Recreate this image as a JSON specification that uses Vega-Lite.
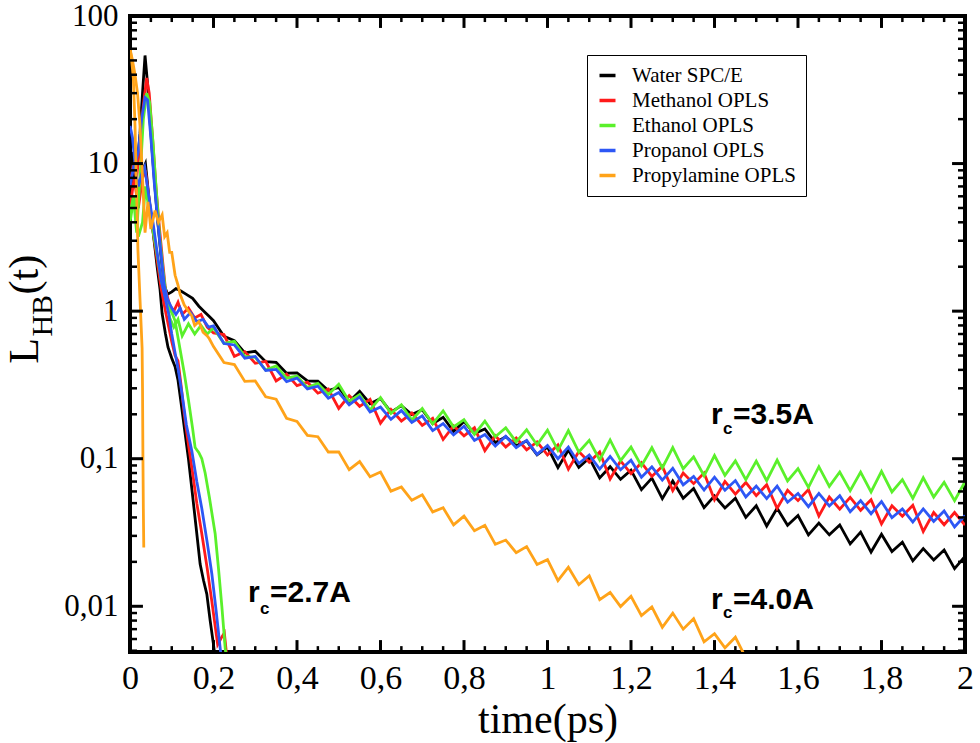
{
"$schema": "https://vega.github.io/schema/vega-lite/v6.json",
"width": 835, "height": 636,
"autosize": {"type": "none"},
"padding": {"left": 130, "top": 16, "right": 15, "bottom": 91},
"background": "white",
"config": {
 "view": {"stroke": "black", "strokeWidth": 4},
 "axis": {"grid": false, "domain": false, "ticks": false, "labelColor": "black", "labelFont": "Liberation Serif", "labelFontSize": 31, "titleFont": "Liberation Serif", "titleColor": "black", "titleFontWeight": "normal", "labelOverlap": false, "labelFlush": false, "labelBound": false}
},
"datasets": {
"xmaj": [{"val":0.2},{"val":0.4},{"val":0.6},{"val":0.8},{"val":1},{"val":1.2},{"val":1.4},{"val":1.6},{"val":1.8}],
"xmin": [{"val":0.05},{"val":0.1},{"val":0.15},{"val":0.25},{"val":0.3},{"val":0.35},{"val":0.45},{"val":0.5},{"val":0.55},{"val":0.65},{"val":0.7},{"val":0.75},{"val":0.85},{"val":0.9},{"val":0.95},{"val":1.05},{"val":1.1},{"val":1.15},{"val":1.25},{"val":1.3},{"val":1.35},{"val":1.45},{"val":1.5},{"val":1.55},{"val":1.65},{"val":1.7},{"val":1.75},{"val":1.85},{"val":1.9},{"val":1.95}],
"ymaj": [{"val":0.01},{"val":0.1},{"val":1},{"val":10}],
"ymin": [{"val":0.005},{"val":0.006},{"val":0.007},{"val":0.008},{"val":0.009},{"val":0.02},{"val":0.03},{"val":0.04},{"val":0.05},{"val":0.06},{"val":0.07},{"val":0.08},{"val":0.09},{"val":0.2},{"val":0.3},{"val":0.4},{"val":0.5},{"val":0.6},{"val":0.7},{"val":0.8},{"val":0.9},{"val":2},{"val":3},{"val":4},{"val":5},{"val":6},{"val":7},{"val":8},{"val":9},{"val":20},{"val":30},{"val":40},{"val":50},{"val":60},{"val":70},{"val":80},{"val":90}],
"curves": [
{"s":"W","c":"27","t":0,"v":6},{"s":"W","c":"27","t":0.01,"v":9},{"s":"W","c":"27","t":0.02,"v":6},{"s":"W","c":"27","t":0.03,"v":9},{"s":"W","c":"27","t":0.037,"v":10},{"s":"W","c":"27","t":0.045,"v":6},{"s":"W","c":"27","t":0.055,"v":3.5},{"s":"W","c":"27","t":0.065,"v":2.0},{"s":"W","c":"27","t":0.072,"v":1.4},{"s":"W","c":"27","t":0.077,"v":0.96},{"s":"W","c":"27","t":0.085,"v":0.7},{"s":"W","c":"27","t":0.091,"v":0.57},{"s":"W","c":"27","t":0.1,"v":0.48},{"s":"W","c":"27","t":0.108,"v":0.42},{"s":"W","c":"27","t":0.115,"v":0.34},{"s":"W","c":"27","t":0.124,"v":0.22},{"s":"W","c":"27","t":0.132,"v":0.148},{"s":"W","c":"27","t":0.14,"v":0.1},{"s":"W","c":"27","t":0.148,"v":0.063},{"s":"W","c":"27","t":0.158,"v":0.035},{"s":"W","c":"27","t":0.168,"v":0.0193},{"s":"W","c":"27","t":0.176,"v":0.015},{"s":"W","c":"27","t":0.184,"v":0.0121},{"s":"W","c":"27","t":0.192,"v":0.008},{"s":"W","c":"27","t":0.2,"v":0.0055},{"s":"W","c":"27","t":0.205,"v":0.0042},
{"s":"W","c":"35","t":0,"v":8},{"s":"W","c":"35","t":0.008,"v":12},{"s":"W","c":"35","t":0.016,"v":9},{"s":"W","c":"35","t":0.024,"v":16},{"s":"W","c":"35","t":0.03,"v":30},{"s":"W","c":"35","t":0.036,"v":54},{"s":"W","c":"35","t":0.042,"v":35},{"s":"W","c":"35","t":0.05,"v":16},{"s":"W","c":"35","t":0.058,"v":8},{"s":"W","c":"35","t":0.066,"v":4.2},{"s":"W","c":"35","t":0.074,"v":2.4},{"s":"W","c":"35","t":0.082,"v":1.5},{"s":"W","c":"35","t":0.09,"v":1.3},{"s":"W","c":"35","t":0.1,"v":1.35},{"s":"W","c":"35","t":0.11,"v":1.42},{"s":"W","c":"35","t":0.12,"v":1.38},{"s":"W","c":"35","t":0.135,"v":1.3},{"s":"W","c":"35","t":0.15,"v":1.22},{"s":"W","c":"35","t":0.165,"v":1.08},{"s":"W","c":"35","t":0.18,"v":0.98},{"s":"W","c":"35","t":0.19,"v":0.92},
{"s":"W","c":"35","t":0.2,"v":0.861},{"s":"W","c":"35","t":0.225,"v":0.676},{"s":"W","c":"35","t":0.25,"v":0.631},{"s":"W","c":"35","t":0.275,"v":0.522},{"s":"W","c":"35","t":0.3,"v":0.534},{"s":"W","c":"35","t":0.325,"v":0.454},{"s":"W","c":"35","t":0.35,"v":0.449},{"s":"W","c":"35","t":0.375,"v":0.38},{"s":"W","c":"35","t":0.4,"v":0.382},{"s":"W","c":"35","t":0.425,"v":0.337},{"s":"W","c":"35","t":0.45,"v":0.335},{"s":"W","c":"35","t":0.475,"v":0.29},{"s":"W","c":"35","t":0.5,"v":0.304},{"s":"W","c":"35","t":0.525,"v":0.2435},{"s":"W","c":"35","t":0.55,"v":0.286},{"s":"W","c":"35","t":0.575,"v":0.236},{"s":"W","c":"35","t":0.6,"v":0.256},{"s":"W","c":"35","t":0.625,"v":0.207},{"s":"W","c":"35","t":0.65,"v":0.229},{"s":"W","c":"35","t":0.675,"v":0.199},{"s":"W","c":"35","t":0.7,"v":0.215},{"s":"W","c":"35","t":0.725,"v":0.173},{"s":"W","c":"35","t":0.75,"v":0.191},{"s":"W","c":"35","t":0.775,"v":0.153},{"s":"W","c":"35","t":0.8,"v":0.179},{"s":"W","c":"35","t":0.825,"v":0.148},{"s":"W","c":"35","t":0.85,"v":0.159},{"s":"W","c":"35","t":0.875,"v":0.1285},{"s":"W","c":"35","t":0.9,"v":0.141},{"s":"W","c":"35","t":0.925,"v":0.1226},{"s":"W","c":"35","t":0.95,"v":0.132},{"s":"W","c":"35","t":0.975,"v":0.1064},{"s":"W","c":"35","t":1,"v":0.1197},{"s":"W","c":"35","t":1.025,"v":0.0869},{"s":"W","c":"35","t":1.05,"v":0.1146},{"s":"W","c":"35","t":1.075,"v":0.0873},{"s":"W","c":"35","t":1.1,"v":0.1012},{"s":"W","c":"35","t":1.125,"v":0.0742},{"s":"W","c":"35","t":1.15,"v":0.0883},{"s":"W","c":"35","t":1.175,"v":0.0725},{"s":"W","c":"35","t":1.2,"v":0.0836},{"s":"W","c":"35","t":1.225,"v":0.0617},{"s":"W","c":"35","t":1.25,"v":0.0738},{"s":"W","c":"35","t":1.275,"v":0.0536},{"s":"W","c":"35","t":1.3,"v":0.0706},{"s":"W","c":"35","t":1.325,"v":0.054},{"s":"W","c":"35","t":1.35,"v":0.0628},{"s":"W","c":"35","t":1.375,"v":0.0466},{"s":"W","c":"35","t":1.4,"v":0.056},{"s":"W","c":"35","t":1.425,"v":0.0464},{"s":"W","c":"35","t":1.45,"v":0.054},{"s":"W","c":"35","t":1.475,"v":0.04},{"s":"W","c":"35","t":1.5,"v":0.048},{"s":"W","c":"35","t":1.525,"v":0.035},{"s":"W","c":"35","t":1.55,"v":0.0462},{"s":"W","c":"35","t":1.575,"v":0.0354},{"s":"W","c":"35","t":1.6,"v":0.0412},{"s":"W","c":"35","t":1.625,"v":0.0305},{"s":"W","c":"35","t":1.65,"v":0.0366},{"s":"W","c":"35","t":1.675,"v":0.0305},{"s":"W","c":"35","t":1.7,"v":0.0356},{"s":"W","c":"35","t":1.725,"v":0.0265},{"s":"W","c":"35","t":1.75,"v":0.0318},{"s":"W","c":"35","t":1.775,"v":0.0233},{"s":"W","c":"35","t":1.8,"v":0.0308},{"s":"W","c":"35","t":1.825,"v":0.0235},{"s":"W","c":"35","t":1.85,"v":0.0272},{"s":"W","c":"35","t":1.875,"v":0.0203},{"s":"W","c":"35","t":1.9,"v":0.0246},{"s":"W","c":"35","t":1.925,"v":0.0206},{"s":"W","c":"35","t":1.95,"v":0.0241},{"s":"W","c":"35","t":1.975,"v":0.018},{"s":"W","c":"35","t":2,"v":0.0218},
{"s":"M","c":"27","t":0,"v":5},{"s":"M","c":"27","t":0.01,"v":8},{"s":"M","c":"27","t":0.02,"v":5},{"s":"M","c":"27","t":0.03,"v":8},{"s":"M","c":"27","t":0.037,"v":9},{"s":"M","c":"27","t":0.045,"v":6},{"s":"M","c":"27","t":0.055,"v":3.5},{"s":"M","c":"27","t":0.065,"v":2.2},{"s":"M","c":"27","t":0.075,"v":1.4},{"s":"M","c":"27","t":0.085,"v":1.0},{"s":"M","c":"27","t":0.092,"v":0.8},{"s":"M","c":"27","t":0.1,"v":0.62},{"s":"M","c":"27","t":0.108,"v":0.5},{"s":"M","c":"27","t":0.115,"v":0.46},{"s":"M","c":"27","t":0.122,"v":0.32},{"s":"M","c":"27","t":0.13,"v":0.2},{"s":"M","c":"27","t":0.139,"v":0.13},{"s":"M","c":"27","t":0.15,"v":0.08},{"s":"M","c":"27","t":0.16,"v":0.05},{"s":"M","c":"27","t":0.172,"v":0.031},{"s":"M","c":"27","t":0.185,"v":0.018},{"s":"M","c":"27","t":0.196,"v":0.0108},{"s":"M","c":"27","t":0.205,"v":0.007},{"s":"M","c":"27","t":0.21,"v":0.0055},{"s":"M","c":"27","t":0.22,"v":0.0062},{"s":"M","c":"27","t":0.226,"v":0.0066},{"s":"M","c":"27","t":0.232,"v":0.0045},
{"s":"M","c":"35","t":0,"v":7},{"s":"M","c":"35","t":0.008,"v":10},{"s":"M","c":"35","t":0.016,"v":8},{"s":"M","c":"35","t":0.024,"v":14},{"s":"M","c":"35","t":0.032,"v":25},{"s":"M","c":"35","t":0.04,"v":38},{"s":"M","c":"35","t":0.046,"v":30},{"s":"M","c":"35","t":0.054,"v":15},{"s":"M","c":"35","t":0.062,"v":7},{"s":"M","c":"35","t":0.07,"v":3.8},{"s":"M","c":"35","t":0.078,"v":2.2},{"s":"M","c":"35","t":0.085,"v":1.4},{"s":"M","c":"35","t":0.095,"v":1.1},{"s":"M","c":"35","t":0.105,"v":1.0},{"s":"M","c":"35","t":0.115,"v":1.15},{"s":"M","c":"35","t":0.125,"v":0.95},{"s":"M","c":"35","t":0.14,"v":1.05},{"s":"M","c":"35","t":0.155,"v":0.9},{"s":"M","c":"35","t":0.17,"v":0.95},{"s":"M","c":"35","t":0.185,"v":0.78},
{"s":"M","c":"35","t":0.2,"v":0.712},{"s":"M","c":"35","t":0.225,"v":0.694},{"s":"M","c":"35","t":0.25,"v":0.494},{"s":"M","c":"35","t":0.275,"v":0.532},{"s":"M","c":"35","t":0.3,"v":0.443},{"s":"M","c":"35","t":0.325,"v":0.457},{"s":"M","c":"35","t":0.35,"v":0.3365},{"s":"M","c":"35","t":0.375,"v":0.374},{"s":"M","c":"35","t":0.4,"v":0.313},{"s":"M","c":"35","t":0.425,"v":0.33},{"s":"M","c":"35","t":0.45,"v":0.278},{"s":"M","c":"35","t":0.475,"v":0.2965},{"s":"M","c":"35","t":0.5,"v":0.219},{"s":"M","c":"35","t":0.525,"v":0.268},{"s":"M","c":"35","t":0.55,"v":0.2265},{"s":"M","c":"35","t":0.575,"v":0.2526},{"s":"M","c":"35","t":0.6,"v":0.174},{"s":"M","c":"35","t":0.625,"v":0.216},{"s":"M","c":"35","t":0.65,"v":0.18},{"s":"M","c":"35","t":0.675,"v":0.204},{"s":"M","c":"35","t":0.7,"v":0.168},{"s":"M","c":"35","t":0.725,"v":0.188},{"s":"M","c":"35","t":0.75,"v":0.135},{"s":"M","c":"35","t":0.775,"v":0.167},{"s":"M","c":"35","t":0.8,"v":0.143},{"s":"M","c":"35","t":0.825,"v":0.162},{"s":"M","c":"35","t":0.85,"v":0.1135},{"s":"M","c":"35","t":0.875,"v":0.143},{"s":"M","c":"35","t":0.9,"v":0.12},{"s":"M","c":"35","t":0.925,"v":0.138},{"s":"M","c":"35","t":0.95,"v":0.115},{"s":"M","c":"35","t":0.975,"v":0.13},{"s":"M","c":"35","t":1,"v":0.106},{"s":"M","c":"35","t":1.025,"v":0.124},{"s":"M","c":"35","t":1.05,"v":0.0849},{"s":"M","c":"35","t":1.075,"v":0.112},{"s":"M","c":"35","t":1.1,"v":0.0946},{"s":"M","c":"35","t":1.125,"v":0.111},{"s":"M","c":"35","t":1.15,"v":0.0728},{"s":"M","c":"35","t":1.175,"v":0.0966},{"s":"M","c":"35","t":1.2,"v":0.0791},{"s":"M","c":"35","t":1.225,"v":0.094},{"s":"M","c":"35","t":1.25,"v":0.0759},{"s":"M","c":"35","t":1.275,"v":0.0889},{"s":"M","c":"35","t":1.3,"v":0.0608},{"s":"M","c":"35","t":1.325,"v":0.0801},{"s":"M","c":"35","t":1.35,"v":0.0678},{"s":"M","c":"35","t":1.375,"v":0.0799},{"s":"M","c":"35","t":1.4,"v":0.0527},{"s":"M","c":"35","t":1.425,"v":0.0701},{"s":"M","c":"35","t":1.45,"v":0.0575},{"s":"M","c":"35","t":1.475,"v":0.069},{"s":"M","c":"35","t":1.5,"v":0.0562},{"s":"M","c":"35","t":1.525,"v":0.0667},{"s":"M","c":"35","t":1.55,"v":0.0461},{"s":"M","c":"35","t":1.575,"v":0.0611},{"s":"M","c":"35","t":1.6,"v":0.052},{"s":"M","c":"35","t":1.625,"v":0.0617},{"s":"M","c":"35","t":1.65,"v":0.0409},{"s":"M","c":"35","t":1.675,"v":0.055},{"s":"M","c":"35","t":1.7,"v":0.0455},{"s":"M","c":"35","t":1.725,"v":0.0547},{"s":"M","c":"35","t":1.75,"v":0.0447},{"s":"M","c":"35","t":1.775,"v":0.0527},{"s":"M","c":"35","t":1.8,"v":0.0362},{"s":"M","c":"35","t":1.825,"v":0.048},{"s":"M","c":"35","t":1.85,"v":0.0408},{"s":"M","c":"35","t":1.875,"v":0.0484},{"s":"M","c":"35","t":1.9,"v":0.0321},{"s":"M","c":"35","t":1.925,"v":0.0432},{"s":"M","c":"35","t":1.95,"v":0.0357},{"s":"M","c":"35","t":1.975,"v":0.0432},{"s":"M","c":"35","t":2,"v":0.0355},
{"s":"E","c":"27","t":0,"v":4},{"s":"E","c":"27","t":0.01,"v":6},{"s":"E","c":"27","t":0.02,"v":3.2},{"s":"E","c":"27","t":0.03,"v":4},{"s":"E","c":"27","t":0.037,"v":7},{"s":"E","c":"27","t":0.045,"v":5},{"s":"E","c":"27","t":0.055,"v":3.5},{"s":"E","c":"27","t":0.065,"v":2.4},{"s":"E","c":"27","t":0.075,"v":1.6},{"s":"E","c":"27","t":0.085,"v":1.25},{"s":"E","c":"27","t":0.095,"v":1.05},{"s":"E","c":"27","t":0.102,"v":0.95},{"s":"E","c":"27","t":0.108,"v":0.86},{"s":"E","c":"27","t":0.12,"v":0.55},{"s":"E","c":"27","t":0.13,"v":0.38},{"s":"E","c":"27","t":0.14,"v":0.25},{"s":"E","c":"27","t":0.15,"v":0.16},{"s":"E","c":"27","t":0.156,"v":0.119},{"s":"E","c":"27","t":0.165,"v":0.11},{"s":"E","c":"27","t":0.172,"v":0.1},{"s":"E","c":"27","t":0.18,"v":0.08},{"s":"E","c":"27","t":0.19,"v":0.055},{"s":"E","c":"27","t":0.204,"v":0.031},{"s":"E","c":"27","t":0.212,"v":0.018},{"s":"E","c":"27","t":0.22,"v":0.01},{"s":"E","c":"27","t":0.228,"v":0.0052},{"s":"E","c":"27","t":0.232,"v":0.0042},
{"s":"E","c":"35","t":0,"v":4.5},{"s":"E","c":"35","t":0.008,"v":6},{"s":"E","c":"35","t":0.016,"v":3.4},{"s":"E","c":"35","t":0.024,"v":8},{"s":"E","c":"35","t":0.032,"v":20},{"s":"E","c":"35","t":0.04,"v":30},{"s":"E","c":"35","t":0.047,"v":26},{"s":"E","c":"35","t":0.055,"v":14},{"s":"E","c":"35","t":0.063,"v":6.5},{"s":"E","c":"35","t":0.071,"v":3.2},{"s":"E","c":"35","t":0.079,"v":1.9},{"s":"E","c":"35","t":0.087,"v":1.25},{"s":"E","c":"35","t":0.095,"v":0.9},{"s":"E","c":"35","t":0.105,"v":0.78},{"s":"E","c":"35","t":0.115,"v":0.88},{"s":"E","c":"35","t":0.125,"v":0.68},{"s":"E","c":"35","t":0.14,"v":0.82},{"s":"E","c":"35","t":0.155,"v":0.7},{"s":"E","c":"35","t":0.17,"v":0.8},{"s":"E","c":"35","t":0.185,"v":0.7},
{"s":"E","c":"35","t":0.2,"v":0.769},{"s":"E","c":"35","t":0.225,"v":0.605},{"s":"E","c":"35","t":0.25,"v":0.624},{"s":"E","c":"35","t":0.275,"v":0.493},{"s":"E","c":"35","t":0.3,"v":0.486},{"s":"E","c":"35","t":0.325,"v":0.399},{"s":"E","c":"35","t":0.35,"v":0.426},{"s":"E","c":"35","t":0.375,"v":0.351},{"s":"E","c":"35","t":0.4,"v":0.363},{"s":"E","c":"35","t":0.425,"v":0.303},{"s":"E","c":"35","t":0.45,"v":0.324},{"s":"E","c":"35","t":0.475,"v":0.272},{"s":"E","c":"35","t":0.5,"v":0.32},{"s":"E","c":"35","t":0.525,"v":0.2455},{"s":"E","c":"35","t":0.55,"v":0.272},{"s":"E","c":"35","t":0.575,"v":0.214},{"s":"E","c":"35","t":0.6,"v":0.26},{"s":"E","c":"35","t":0.625,"v":0.203},{"s":"E","c":"35","t":0.65,"v":0.232},{"s":"E","c":"35","t":0.675,"v":0.183},{"s":"E","c":"35","t":0.7,"v":0.219},{"s":"E","c":"35","t":0.725,"v":0.172},{"s":"E","c":"35","t":0.75,"v":0.211},{"s":"E","c":"35","t":0.775,"v":0.164},{"s":"E","c":"35","t":0.8,"v":0.184},{"s":"E","c":"35","t":0.825,"v":0.146},{"s":"E","c":"35","t":0.85,"v":0.18},{"s":"E","c":"35","t":0.875,"v":0.141},{"s":"E","c":"35","t":0.9,"v":0.162},{"s":"E","c":"35","t":0.925,"v":0.13},{"s":"E","c":"35","t":0.95,"v":0.157},{"s":"E","c":"35","t":0.975,"v":0.124},{"s":"E","c":"35","t":1,"v":0.156},{"s":"E","c":"35","t":1.025,"v":0.114},{"s":"E","c":"35","t":1.05,"v":0.155},{"s":"E","c":"35","t":1.075,"v":0.111},{"s":"E","c":"35","t":1.1,"v":0.133},{"s":"E","c":"35","t":1.125,"v":0.098},{"s":"E","c":"35","t":1.15,"v":0.134},{"s":"E","c":"35","t":1.175,"v":0.0972},{"s":"E","c":"35","t":1.2,"v":0.12},{"s":"E","c":"35","t":1.225,"v":0.0893},{"s":"E","c":"35","t":1.25,"v":0.1186},{"s":"E","c":"35","t":1.275,"v":0.0867},{"s":"E","c":"35","t":1.3,"v":0.119},{"s":"E","c":"35","t":1.325,"v":0.0855},{"s":"E","c":"35","t":1.35,"v":0.103},{"s":"E","c":"35","t":1.375,"v":0.0766},{"s":"E","c":"35","t":1.4,"v":0.105},{"s":"E","c":"35","t":1.425,"v":0.0772},{"s":"E","c":"35","t":1.45,"v":0.0966},{"s":"E","c":"35","t":1.475,"v":0.0722},{"s":"E","c":"35","t":1.5,"v":0.0964},{"s":"E","c":"35","t":1.525,"v":0.0709},{"s":"E","c":"35","t":1.55,"v":0.0977},{"s":"E","c":"35","t":1.575,"v":0.0707},{"s":"E","c":"35","t":1.6,"v":0.0857},{"s":"E","c":"35","t":1.625,"v":0.064},{"s":"E","c":"35","t":1.65,"v":0.0883},{"s":"E","c":"35","t":1.675,"v":0.0649},{"s":"E","c":"35","t":1.7,"v":0.0813},{"s":"E","c":"35","t":1.725,"v":0.0607},{"s":"E","c":"35","t":1.75,"v":0.0811},{"s":"E","c":"35","t":1.775,"v":0.0596},{"s":"E","c":"35","t":1.8,"v":0.0822},{"s":"E","c":"35","t":1.825,"v":0.0595},{"s":"E","c":"35","t":1.85,"v":0.0721},{"s":"E","c":"35","t":1.875,"v":0.0539},{"s":"E","c":"35","t":1.9,"v":0.0743},{"s":"E","c":"35","t":1.925,"v":0.055},{"s":"E","c":"35","t":1.95,"v":0.0692},{"s":"E","c":"35","t":1.975,"v":0.052},{"s":"E","c":"35","t":2,"v":0.0698},
{"s":"P","c":"27","t":0,"v":7},{"s":"P","c":"27","t":0.01,"v":10},{"s":"P","c":"27","t":0.02,"v":7},{"s":"P","c":"27","t":0.028,"v":8.5},{"s":"P","c":"27","t":0.035,"v":9.5},{"s":"P","c":"27","t":0.045,"v":6},{"s":"P","c":"27","t":0.055,"v":4},{"s":"P","c":"27","t":0.065,"v":2.5},{"s":"P","c":"27","t":0.075,"v":1.6},{"s":"P","c":"27","t":0.085,"v":1.2},{"s":"P","c":"27","t":0.093,"v":0.95},{"s":"P","c":"27","t":0.1,"v":0.7},{"s":"P","c":"27","t":0.108,"v":0.52},{"s":"P","c":"27","t":0.115,"v":0.41},{"s":"P","c":"27","t":0.125,"v":0.27},{"s":"P","c":"27","t":0.135,"v":0.17},{"s":"P","c":"27","t":0.148,"v":0.113},{"s":"P","c":"27","t":0.16,"v":0.07},{"s":"P","c":"27","t":0.172,"v":0.046},{"s":"P","c":"27","t":0.185,"v":0.027},{"s":"P","c":"27","t":0.196,"v":0.0166},{"s":"P","c":"27","t":0.206,"v":0.0095},{"s":"P","c":"27","t":0.216,"v":0.0052},{"s":"P","c":"27","t":0.22,"v":0.0042},
{"s":"P","c":"35","t":0,"v":18},{"s":"P","c":"35","t":0.006,"v":15},{"s":"P","c":"35","t":0.012,"v":10},{"s":"P","c":"35","t":0.02,"v":12},{"s":"P","c":"35","t":0.028,"v":20},{"s":"P","c":"35","t":0.036,"v":28},{"s":"P","c":"35","t":0.042,"v":27},{"s":"P","c":"35","t":0.05,"v":15},{"s":"P","c":"35","t":0.058,"v":7.5},{"s":"P","c":"35","t":0.066,"v":4.2},{"s":"P","c":"35","t":0.074,"v":2.5},{"s":"P","c":"35","t":0.082,"v":1.5},{"s":"P","c":"35","t":0.09,"v":1.2},{"s":"P","c":"35","t":0.1,"v":1.05},{"s":"P","c":"35","t":0.11,"v":0.95},{"s":"P","c":"35","t":0.12,"v":1.05},{"s":"P","c":"35","t":0.13,"v":0.88},{"s":"P","c":"35","t":0.145,"v":0.98},{"s":"P","c":"35","t":0.16,"v":0.85},{"s":"P","c":"35","t":0.175,"v":0.88},{"s":"P","c":"35","t":0.188,"v":0.78},
{"s":"P","c":"35","t":0.2,"v":0.794},{"s":"P","c":"35","t":0.225,"v":0.603},{"s":"P","c":"35","t":0.25,"v":0.59},{"s":"P","c":"35","t":0.275,"v":0.48},{"s":"P","c":"35","t":0.3,"v":0.493},{"s":"P","c":"35","t":0.325,"v":0.396},{"s":"P","c":"35","t":0.35,"v":0.403},{"s":"P","c":"35","t":0.375,"v":0.333},{"s":"P","c":"35","t":0.4,"v":0.352},{"s":"P","c":"35","t":0.425,"v":0.297},{"s":"P","c":"35","t":0.45,"v":0.31},{"s":"P","c":"35","t":0.475,"v":0.257},{"s":"P","c":"35","t":0.5,"v":0.281},{"s":"P","c":"35","t":0.525,"v":0.232},{"s":"P","c":"35","t":0.55,"v":0.262},{"s":"P","c":"35","t":0.575,"v":0.207},{"s":"P","c":"35","t":0.6,"v":0.224},{"s":"P","c":"35","t":0.625,"v":0.185},{"s":"P","c":"35","t":0.65,"v":0.212},{"s":"P","c":"35","t":0.675,"v":0.176},{"s":"P","c":"35","t":0.7,"v":0.195},{"s":"P","c":"35","t":0.725,"v":0.155},{"s":"P","c":"35","t":0.75,"v":0.173},{"s":"P","c":"35","t":0.775,"v":0.145},{"s":"P","c":"35","t":0.8,"v":0.166},{"s":"P","c":"35","t":0.825,"v":0.133},{"s":"P","c":"35","t":0.85,"v":0.146},{"s":"P","c":"35","t":0.875,"v":0.122},{"s":"P","c":"35","t":0.9,"v":0.142},{"s":"P","c":"35","t":0.925,"v":0.119},{"s":"P","c":"35","t":0.95,"v":0.133},{"s":"P","c":"35","t":0.975,"v":0.107},{"s":"P","c":"35","t":1,"v":0.123},{"s":"P","c":"35","t":1.025,"v":0.1},{"s":"P","c":"35","t":1.05,"v":0.12},{"s":"P","c":"35","t":1.075,"v":0.0928},{"s":"P","c":"35","t":1.1,"v":0.106},{"s":"P","c":"35","t":1.125,"v":0.0851},{"s":"P","c":"35","t":1.15,"v":0.1035},{"s":"P","c":"35","t":1.175,"v":0.0841},{"s":"P","c":"35","t":1.2,"v":0.0977},{"s":"P","c":"35","t":1.225,"v":0.075},{"s":"P","c":"35","t":1.25,"v":0.0881},{"s":"P","c":"35","t":1.275,"v":0.0716},{"s":"P","c":"35","t":1.3,"v":0.0861},{"s":"P","c":"35","t":1.325,"v":0.0665},{"s":"P","c":"35","t":1.35,"v":0.0759},{"s":"P","c":"35","t":1.375,"v":0.0613},{"s":"P","c":"35","t":1.4,"v":0.075},{"s":"P","c":"35","t":1.425,"v":0.0611},{"s":"P","c":"35","t":1.45,"v":0.0711},{"s":"P","c":"35","t":1.475,"v":0.0551},{"s":"P","c":"35","t":1.5,"v":0.0653},{"s":"P","c":"35","t":1.525,"v":0.0537},{"s":"P","c":"35","t":1.55,"v":0.0653},{"s":"P","c":"35","t":1.575,"v":0.0507},{"s":"P","c":"35","t":1.6,"v":0.0582},{"s":"P","c":"35","t":1.625,"v":0.0473},{"s":"P","c":"35","t":1.65,"v":0.0582},{"s":"P","c":"35","t":1.675,"v":0.0479},{"s":"P","c":"35","t":1.7,"v":0.0562},{"s":"P","c":"35","t":1.725,"v":0.0437},{"s":"P","c":"35","t":1.75,"v":0.0519},{"s":"P","c":"35","t":1.775,"v":0.0424},{"s":"P","c":"35","t":1.8,"v":0.0513},{"s":"P","c":"35","t":1.825,"v":0.0398},{"s":"P","c":"35","t":1.85,"v":0.0457},{"s":"P","c":"35","t":1.875,"v":0.0372},{"s":"P","c":"35","t":1.9,"v":0.0457},{"s":"P","c":"35","t":1.925,"v":0.0376},{"s":"P","c":"35","t":1.95,"v":0.0442},{"s":"P","c":"35","t":1.975,"v":0.0345},{"s":"P","c":"35","t":2,"v":0.0412},
{"s":"A","c":"27","t":0,"v":60},{"s":"A","c":"27","t":0.004,"v":50},{"s":"A","c":"27","t":0.008,"v":38},{"s":"A","c":"27","t":0.012,"v":18},{"s":"A","c":"27","t":0.016,"v":6},{"s":"A","c":"27","t":0.019,"v":2.6},{"s":"A","c":"27","t":0.024,"v":1.2},{"s":"A","c":"27","t":0.029,"v":0.56},{"s":"A","c":"27","t":0.03,"v":0.3},{"s":"A","c":"27","t":0.031,"v":0.1},{"s":"A","c":"27","t":0.032,"v":0.045},{"s":"A","c":"27","t":0.033,"v":0.025},
{"s":"A","c":"40","t":0,"v":60},{"s":"A","c":"40","t":0.006,"v":50},{"s":"A","c":"40","t":0.012,"v":40},{"s":"A","c":"40","t":0.018,"v":30},{"s":"A","c":"40","t":0.024,"v":18},{"s":"A","c":"40","t":0.03,"v":8},{"s":"A","c":"40","t":0.036,"v":3.4},{"s":"A","c":"40","t":0.043,"v":5.5},{"s":"A","c":"40","t":0.05,"v":3.6},{"s":"A","c":"40","t":0.06,"v":4.8},{"s":"A","c":"40","t":0.068,"v":4.0},{"s":"A","c":"40","t":0.077,"v":4.5},{"s":"A","c":"40","t":0.083,"v":3.2},{"s":"A","c":"40","t":0.089,"v":3.4},{"s":"A","c":"40","t":0.095,"v":2.5},{"s":"A","c":"40","t":0.1,"v":2.5},{"s":"A","c":"40","t":0.108,"v":1.75},{"s":"A","c":"40","t":0.115,"v":1.5},{"s":"A","c":"40","t":0.12,"v":1.3},{"s":"A","c":"40","t":0.13,"v":1.1},{"s":"A","c":"40","t":0.14,"v":1.0},{"s":"A","c":"40","t":0.148,"v":0.93},{"s":"A","c":"40","t":0.155,"v":0.8},{"s":"A","c":"40","t":0.165,"v":0.85},{"s":"A","c":"40","t":0.175,"v":0.72},{"s":"A","c":"40","t":0.185,"v":0.68},{"s":"A","c":"40","t":0.19,"v":0.65},
{"s":"A","c":"40","t":0.2,"v":0.575},{"s":"A","c":"40","t":0.225,"v":0.448},{"s":"A","c":"40","t":0.25,"v":0.4345},{"s":"A","c":"40","t":0.275,"v":0.334},{"s":"A","c":"40","t":0.3,"v":0.3365},{"s":"A","c":"40","t":0.325,"v":0.263},{"s":"A","c":"40","t":0.35,"v":0.253},{"s":"A","c":"40","t":0.375,"v":0.188},{"s":"A","c":"40","t":0.4,"v":0.179},{"s":"A","c":"40","t":0.425,"v":0.144},{"s":"A","c":"40","t":0.45,"v":0.141},{"s":"A","c":"40","t":0.475,"v":0.111},{"s":"A","c":"40","t":0.5,"v":0.1114},{"s":"A","c":"40","t":0.525,"v":0.0843},{"s":"A","c":"40","t":0.55,"v":0.0956},{"s":"A","c":"40","t":0.575,"v":0.0754},{"s":"A","c":"40","t":0.6,"v":0.0812},{"s":"A","c":"40","t":0.625,"v":0.0603},{"s":"A","c":"40","t":0.65,"v":0.0643},{"s":"A","c":"40","t":0.675,"v":0.0523},{"s":"A","c":"40","t":0.7,"v":0.0569},{"s":"A","c":"40","t":0.725,"v":0.0436},{"s":"A","c":"40","t":0.75,"v":0.0465},{"s":"A","c":"40","t":0.775,"v":0.0356},{"s":"A","c":"40","t":0.8,"v":0.0408},{"s":"A","c":"40","t":0.825,"v":0.0325},{"s":"A","c":"40","t":0.85,"v":0.0354},{"s":"A","c":"40","t":0.875,"v":0.0263},{"s":"A","c":"40","t":0.9,"v":0.0281},{"s":"A","c":"40","t":0.925,"v":0.0231},{"s":"A","c":"40","t":0.95,"v":0.0254},{"s":"A","c":"40","t":0.975,"v":0.0192},{"s":"A","c":"40","t":1,"v":0.0207},{"s":"A","c":"40","t":1.025,"v":0.0149},{"s":"A","c":"40","t":1.05,"v":0.0184},{"s":"A","c":"40","t":1.075,"v":0.014},{"s":"A","c":"40","t":1.1,"v":0.0161},{"s":"A","c":"40","t":1.125,"v":0.0111},{"s":"A","c":"40","t":1.15,"v":0.0124},{"s":"A","c":"40","t":1.175,"v":0.00995},{"s":"A","c":"40","t":1.2,"v":0.0117},{"s":"A","c":"40","t":1.225,"v":0.00865},{"s":"A","c":"40","t":1.25,"v":0.0099},{"s":"A","c":"40","t":1.275,"v":0.00721},{"s":"A","c":"40","t":1.3,"v":0.00899},{"s":"A","c":"40","t":1.325,"v":0.007},{"s":"A","c":"40","t":1.35,"v":0.00824},{"s":"A","c":"40","t":1.375,"v":0.00575},{"s":"A","c":"40","t":1.4,"v":0.00652},{"s":"A","c":"40","t":1.425,"v":0.00522},{"s":"A","c":"40","t":1.45,"v":0.00617},{"s":"A","c":"40","t":1.475,"v":0.00447}
],
"ann": [
{"k":"big","txt":"r","t":0.2826,"v":0.01069},
{"k":"sub","txt":"c","t":0.3114,"v":0.00885},
{"k":"big","txt":"=2.7A","t":0.3353,"v":0.01069},
{"k":"big","txt":"r","t":1.3916,"v":0.1726},
{"k":"sub","txt":"c","t":1.4204,"v":0.1476},
{"k":"big","txt":"=3.5A","t":1.4443,"v":0.1726},
{"k":"big","txt":"r","t":1.3916,"v":0.00957},
{"k":"sub","txt":"c","t":1.4204,"v":0.00832},
{"k":"big","txt":"=4.0A","t":1.4443,"v":0.00957},
{"k":"yt","txt":"L","t":-0.2204,"v":0.4408},
{"k":"ysub","txt":"HB","t":-0.1868,"v":0.6725},
{"k":"yt","txt":"(t)","t":-0.2204,"v":1.296}
]
},
"layer": [
{
 "data": {"name": "curves"},
 "mark": {"type": "line", "clip": true, "strokeWidth": 2.8},
 "encoding": {
  "x": {"field": "t", "type": "quantitative", "scale": {"domain": [0, 2], "nice": false, "zero": false},
        "axis": {"orient": "bottom", "values": [0,0.2,0.4,0.6,0.8,1,1.2,1.4,1.6,1.8,2], "format": "~g", "labelExpr": "replace(datum.label, '.', ',')", "labelPadding": 9, "labelFontSize": 34, "title": "time(ps)", "titleFontSize": 42, "titlePadding": 4}},
  "y": {"field": "v", "type": "quantitative", "scale": {"type": "log", "domain": [0.0049, 100], "nice": false},
        "axis": {"orient": "left", "values": [0.01,0.1,1,10,100], "format": "~g", "labelExpr": "replace(datum.label, '.', ',')", "labelPadding": 12, "title": null,
                 "encode": {"labels": {"update": {"dy": {"signal": "datum.value >= 100 ? 3 : 0"}}}}}},
  "color": {"field": "s", "type": "nominal", "scale": {"domain": ["W","M","E","P","A"], "range": ["#000000","#ff1a1a","#5af02b","#2d57f5","#ffa319"]},
        "legend": {"orient": "none", "legendX": 457, "legendY": 39, "title": null, "symbolType": "stroke", "symbolSize": 256, "symbolStrokeWidth": 3.5, "labelFont": "Liberation Serif", "labelFontSize": 21, "labelLimit": 400, "labelColor": "black", "labelOffset": 14, "rowPadding": 3, "padding": 10, "strokeColor": "black", "fillColor": "white", "labelExpr": "datum.label == 'W' ? 'Water SPC/E' : datum.label == 'M' ? 'Methanol OPLS' : datum.label == 'E' ? 'Ethanol OPLS' : datum.label == 'P' ? 'Propanol OPLS' : 'Propylamine OPLS'"}},
  "detail": {"field": "c", "type": "nominal"}
 }
},
{"data": {"name": "xmaj"}, "mark": {"type": "rule", "strokeWidth": 3, "color": "black"},
 "encoding": {"x": {"field": "val", "type": "quantitative"}, "y": {"datum": 0.0049, "type": "quantitative"}, "y2": {"datum": 0.0059}}},
{"data": {"name": "xmaj"}, "mark": {"type": "rule", "strokeWidth": 3, "color": "black"},
 "encoding": {"x": {"field": "val", "type": "quantitative"}, "y": {"datum": 100, "type": "quantitative"}, "y2": {"datum": 83}}},
{"data": {"name": "xmin"}, "mark": {"type": "rule", "strokeWidth": 2.5, "color": "black"},
 "encoding": {"x": {"field": "val", "type": "quantitative"}, "y": {"datum": 0.0049, "type": "quantitative"}, "y2": {"datum": 0.00537}}},
{"data": {"name": "xmin"}, "mark": {"type": "rule", "strokeWidth": 2.5, "color": "black"},
 "encoding": {"x": {"field": "val", "type": "quantitative"}, "y": {"datum": 100, "type": "quantitative"}, "y2": {"datum": 91}}},
{"data": {"name": "ymaj"}, "mark": {"type": "rule", "strokeWidth": 3, "color": "black"},
 "encoding": {"y": {"field": "val", "type": "quantitative"}, "x": {"datum": 0, "type": "quantitative"}, "x2": {"datum": 0.031}}},
{"data": {"name": "ymaj"}, "mark": {"type": "rule", "strokeWidth": 3, "color": "black"},
 "encoding": {"y": {"field": "val", "type": "quantitative"}, "x": {"datum": 2, "type": "quantitative"}, "x2": {"datum": 1.969}}},
{"data": {"name": "ymin"}, "mark": {"type": "rule", "strokeWidth": 2.5, "color": "black"},
 "encoding": {"y": {"field": "val", "type": "quantitative"}, "x": {"datum": 0, "type": "quantitative"}, "x2": {"datum": 0.0168}}},
{"data": {"name": "ymin"}, "mark": {"type": "rule", "strokeWidth": 2.5, "color": "black"},
 "encoding": {"y": {"field": "val", "type": "quantitative"}, "x": {"datum": 2, "type": "quantitative"}, "x2": {"datum": 1.9832}}},
{
 "data": {"name": "ann"},
 "transform": [{"filter": "datum.k == 'big'"}],
 "mark": {"type": "text", "font": "Liberation Sans", "fontWeight": "bold", "fontSize": 30, "align": "left", "baseline": "alphabetic", "color": "black"},
 "encoding": {"x": {"field": "t", "type": "quantitative"}, "y": {"field": "v", "type": "quantitative"}, "text": {"field": "txt"}}
},
{
 "data": {"name": "ann"},
 "transform": [{"filter": "datum.k == 'sub'"}],
 "mark": {"type": "text", "font": "Liberation Sans", "fontWeight": "bold", "fontSize": 17, "align": "left", "baseline": "alphabetic", "color": "black"},
 "encoding": {"x": {"field": "t", "type": "quantitative"}, "y": {"field": "v", "type": "quantitative"}, "text": {"field": "txt"}}
},
{
 "data": {"name": "ann"},
 "transform": [{"filter": "datum.k == 'yt'"}],
 "mark": {"type": "text", "font": "Liberation Serif", "fontSize": 42, "align": "left", "baseline": "alphabetic", "angle": 270, "color": "black"},
 "encoding": {"x": {"field": "t", "type": "quantitative"}, "y": {"field": "v", "type": "quantitative"}, "text": {"field": "txt"}}
},
{
 "data": {"name": "ann"},
 "transform": [{"filter": "datum.k == 'ysub'"}],
 "mark": {"type": "text", "font": "Liberation Serif", "fontSize": 30, "align": "left", "baseline": "alphabetic", "angle": 270, "color": "black"},
 "encoding": {"x": {"field": "t", "type": "quantitative"}, "y": {"field": "v", "type": "quantitative"}, "text": {"field": "txt"}}
}
]
}
